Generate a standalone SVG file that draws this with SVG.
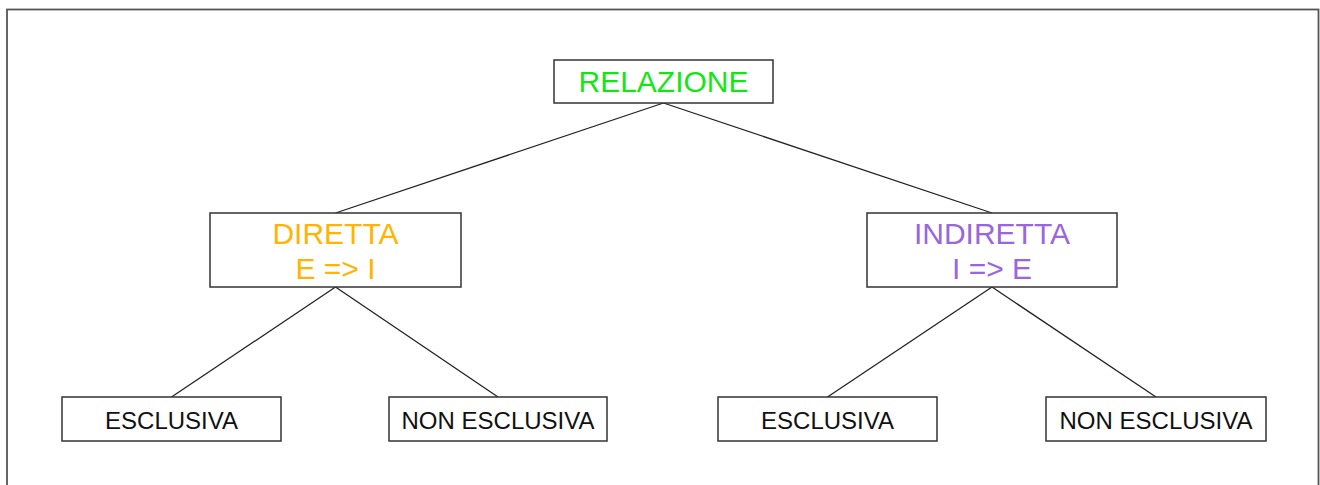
<svg xmlns="http://www.w3.org/2000/svg" width="1320" height="485" viewBox="0 0 1320 485">
<style>
.box{fill:#fff;stroke:#333;stroke-width:1.5}
.t{font-family:"Liberation Sans",Arial,sans-serif;text-anchor:middle}
.big{font-size:30px}
.small{font-size:24px;fill:#111}
.edge{stroke:#222;stroke-width:1.3;fill:none}
</style>
<rect x="0" y="0" width="1320" height="485" fill="#fff"/>
<rect x="7" y="9.5" width="1311.5" height="500" fill="none" stroke="#555" stroke-width="1.8"/>
<g id="connectors">
<line class="edge" x1="663.5" y1="103" x2="335.5" y2="213"/>
<line class="edge" x1="663.5" y1="103" x2="992" y2="213"/>
<line class="edge" x1="335.5" y1="287" x2="171.5" y2="397"/>
<line class="edge" x1="335.5" y1="287" x2="498" y2="397"/>
<line class="edge" x1="992" y1="287" x2="827.5" y2="397"/>
<line class="edge" x1="992" y1="287" x2="1156" y2="397"/>
</g>
<g id="relazione">
<rect class="box" x="554" y="60" width="219" height="43"/>
<text class="t big" x="663.5" y="92" fill="#14e614">RELAZIONE</text>
</g>
<g id="diretta">
<rect class="box" x="210" y="213" width="251" height="74"/>
<text class="t big" x="335.5" y="244" fill="#ffb400">DIRETTA</text>
<text class="t big" x="335.5" y="279" fill="#ffb400">E =&gt; I</text>
</g>
<g id="indiretta">
<rect class="box" x="867" y="213" width="250" height="74"/>
<text class="t big" x="992" y="244" fill="#9966dd">INDIRETTA</text>
<text class="t big" x="992" y="279" fill="#9966dd">I =&gt; E</text>
</g>
<g id="esclusiva1">
<rect class="box" x="62" y="397" width="219" height="44"/>
<text class="t small" x="171.5" y="429">ESCLUSIVA</text>
</g>
<g id="nonesclusiva1">
<rect class="box" x="389" y="397" width="218" height="44"/>
<text class="t small" x="498" y="429">NON ESCLUSIVA</text>
</g>
<g id="esclusiva2">
<rect class="box" x="718" y="397" width="219" height="44"/>
<text class="t small" x="827.5" y="429">ESCLUSIVA</text>
</g>
<g id="nonesclusiva2">
<rect class="box" x="1046" y="397" width="220" height="44"/>
<text class="t small" x="1156" y="429">NON ESCLUSIVA</text>
</g>
</svg>
